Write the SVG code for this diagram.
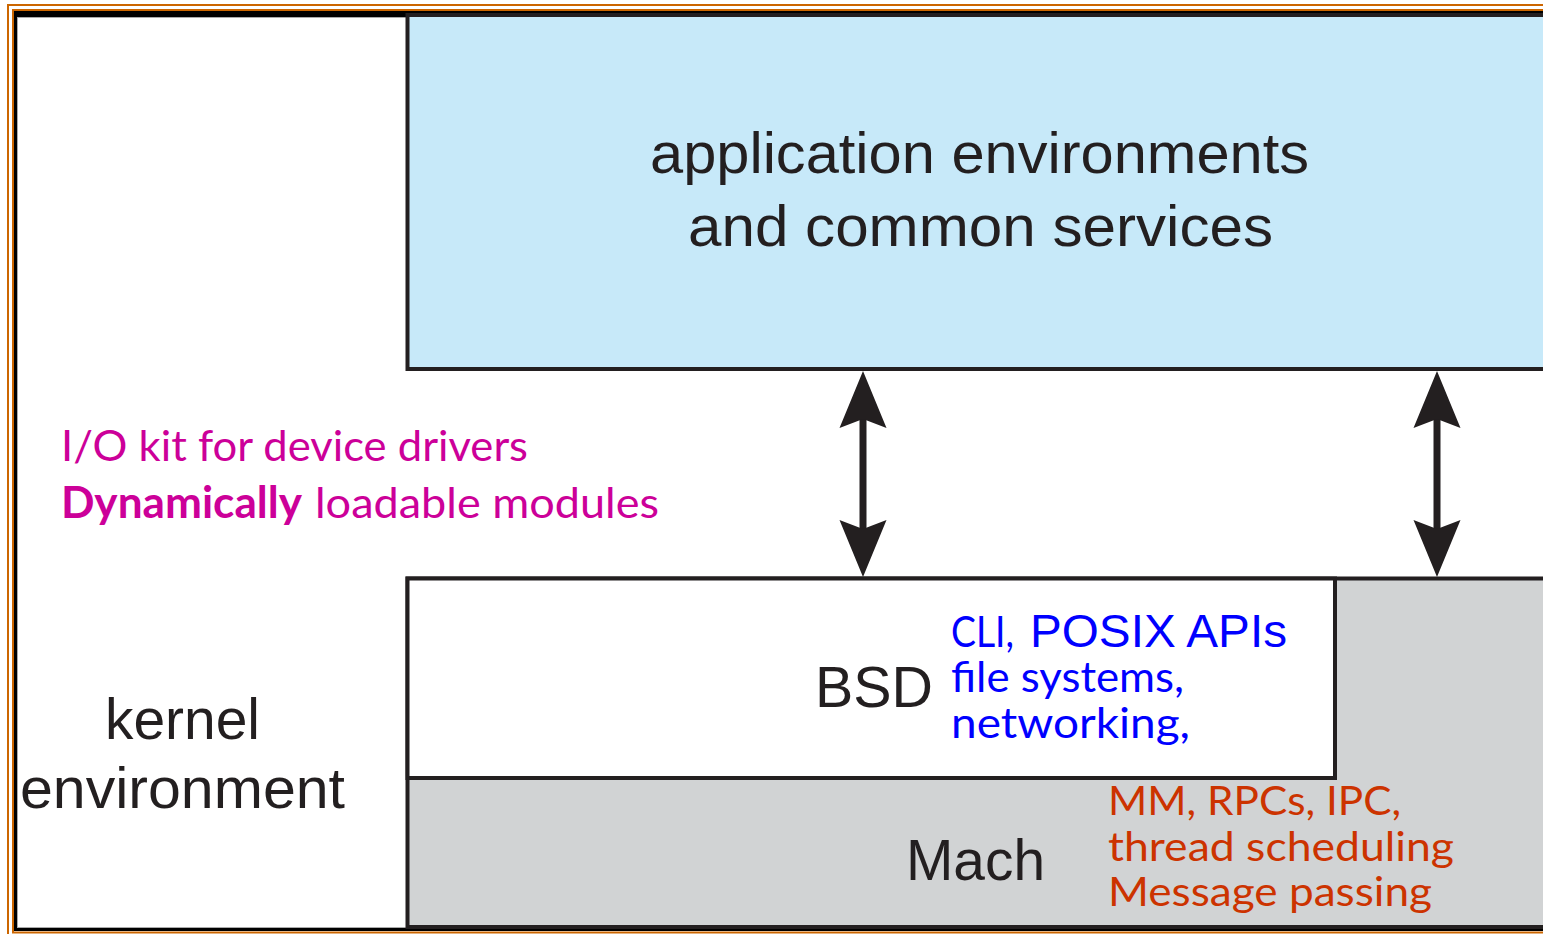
<svg xmlns="http://www.w3.org/2000/svg" width="1543" height="934" viewBox="0 0 1543 934">
<style>
.box{stroke:#231f20;stroke-width:4}
.dk{font-family:"Liberation Sans",Arial,sans-serif;font-size:58px;fill:#231f20}
.cal{font-family:Lato,"Open Sans",sans-serif}
.mag{fill:#cc0099;font-size:43px}
.blu{fill:#0000ff;font-size:42px}
.red{fill:#cc3300;font-size:41px}
.conn{stroke:#231f20;stroke-width:7;fill:none}
</style>
<defs>
<marker id="ah" markerUnits="userSpaceOnUse" viewBox="0 -25 60 50" markerWidth="60" markerHeight="50" refX="9" refY="0" orient="auto-start-reverse">
<path d="M0,-23.5 L57,0 L0,23.5 L9,0 Z" fill="#231f20"/>
</marker>
</defs>
<g id="frame">
<rect x="0" y="0" width="1543" height="934" fill="#fff"/>
<rect x="8" y="5" width="1600" height="940" fill="none" stroke="#cc6600" stroke-width="2"/>
<rect x="13" y="10" width="1600" height="922.5" fill="none" stroke="#cc6600" stroke-width="2"/>
<rect x="14" y="11" width="1600" height="920" fill="#000"/>
<rect x="17.5" y="17.5" width="1600" height="910" fill="#fff" stroke="#aaa" stroke-width="1"/>
</g>
<g id="kernel-env">
<text class="dk" x="105" y="739" textLength="155" lengthAdjust="spacingAndGlyphs">kernel</text>
<text class="dk" x="20" y="808" textLength="325" lengthAdjust="spacingAndGlyphs">environment</text>
</g>
<g id="app-env">
<rect class="box" x="407.5" y="15" width="1200" height="354" fill="#c7e9f9"/>
<text class="dk" x="650" y="173" textLength="659" lengthAdjust="spacingAndGlyphs">application environments</text>
<text class="dk" x="688" y="246" textLength="585" lengthAdjust="spacingAndGlyphs">and common services</text>
</g>
<g id="mach">
<rect class="box" x="407.5" y="578.5" width="1200" height="348.5" fill="#d1d3d4"/>
<text class="dk" x="906" y="880" textLength="139" lengthAdjust="spacingAndGlyphs">Mach</text>
<text class="cal red" x="1108" y="815" textLength="293" lengthAdjust="spacingAndGlyphs">MM, RPCs, IPC,</text>
<text class="cal red" x="1108" y="861" textLength="346" lengthAdjust="spacingAndGlyphs">thread scheduling</text>
<text class="cal red" x="1108" y="906" textLength="324" lengthAdjust="spacingAndGlyphs">Message passing</text>
</g>
<g id="bsd">
<rect class="box" x="407.5" y="578.5" width="927.5" height="199.5" fill="#fff"/>
<text class="dk" x="815" y="707" textLength="118" lengthAdjust="spacingAndGlyphs">BSD</text>
<text class="cal blu" x="951" y="647" textLength="63" lengthAdjust="spacingAndGlyphs">CLI,</text>
<text x="1030" y="647" font-family="Liberation Sans,Arial,sans-serif" font-size="46" fill="#0000ff" textLength="257" lengthAdjust="spacingAndGlyphs">POSIX APIs</text>
<text class="cal blu" x="951" y="692" textLength="233" lengthAdjust="spacingAndGlyphs">file systems,</text>
<text class="cal blu" x="951" y="738" textLength="239" lengthAdjust="spacingAndGlyphs">networking,</text>
</g>
<g id="iokit">
<text class="cal mag" x="61" y="461" textLength="467" lengthAdjust="spacingAndGlyphs">I/O kit for device drivers</text>
<text class="cal mag" x="61" y="518" font-weight="bold" textLength="241" lengthAdjust="spacingAndGlyphs">Dynamically</text>
<text class="cal mag" x="315" y="518" textLength="344" lengthAdjust="spacingAndGlyphs">loadable modules</text>
</g>
<g id="connectors">
<line class="conn" x1="863" y1="419" x2="863" y2="529" marker-start="url(#ah)" marker-end="url(#ah)"/>
<line class="conn" x1="1437" y1="419" x2="1437" y2="529" marker-start="url(#ah)" marker-end="url(#ah)"/>
</g>
</svg>
